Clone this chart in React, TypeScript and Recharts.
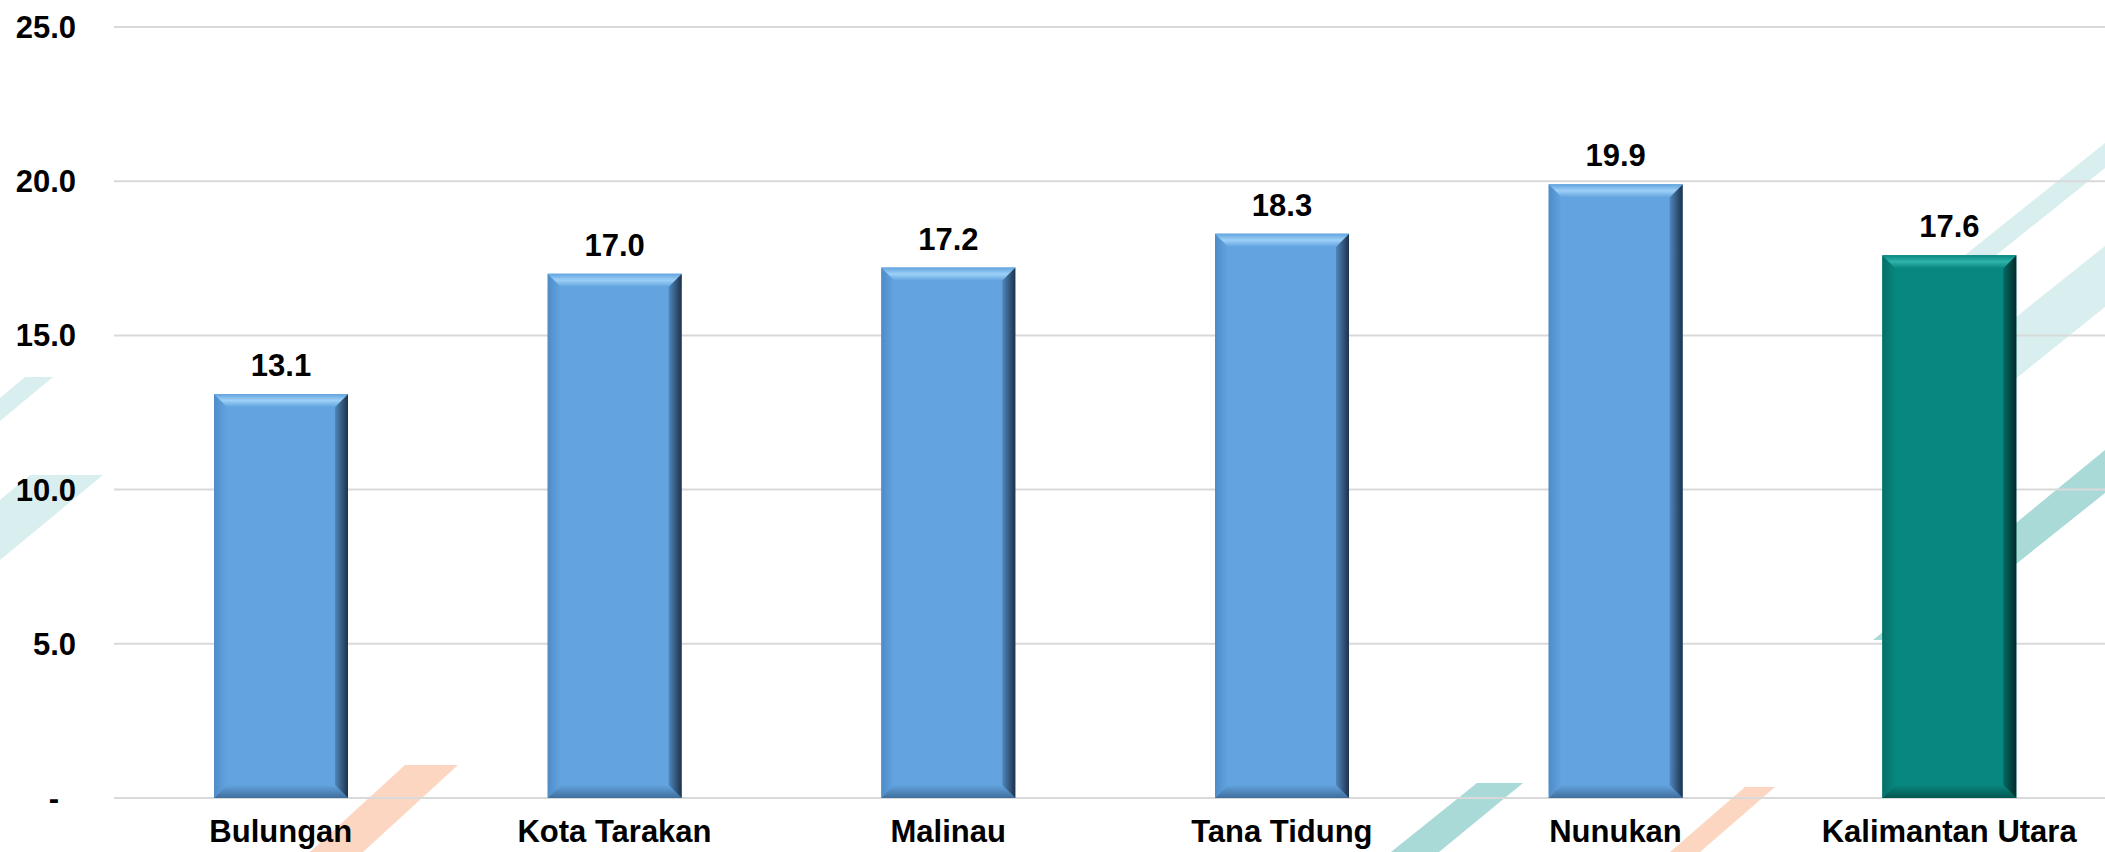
import { Bar, BarChart, CartesianGrid, Cell, LabelList, XAxis, YAxis } from "recharts";

const regions = ["Bulungan", "Kota Tarakan", "Malinau", "Tana Tidung", "Nunukan", "Kalimantan Utara"];
const values = [13.1, 17.0, 17.2, 18.3, 19.9, 17.6];
const yTicks = [0, 5, 10, 15, 20, 25];

const data = regions.map((name, i) => ({ name, value: values[i] }));

const FONT = '"Liberation Sans", Arial, sans-serif';

const palettes: Record<string, { base: string; light: string; side: string; dark: string; bottom: string; left: string }> = {
  blue: { base: "#63a4e0", light: "#9dd0f7", side: "#4f87bd", dark: "#1d324a", bottom: "#3f6e9c", left: "#4e8cc8" },
  teal: { base: "#07877f", light: "#2fb3aa", side: "#056a63", dark: "#022a28", bottom: "#04564f", left: "#066f68" },
};

function BevelBar(props: any) {
  const { x, y, width: w, height: h, index, fill } = props;
  if (!w || !h) return null;
  const p = fill === "teal" ? palettes.teal : palettes.blue;
  const b = 13;
  const id = `bev${index}`;
  return (
    <g>
      <defs>
        <linearGradient id={`${id}t`} x1="0" y1="0" x2="0" y2="1">
          <stop offset="0" stopColor={p.base} />
          <stop offset="0.5" stopColor={p.light} />
          <stop offset="1" stopColor={p.base} />
        </linearGradient>
        <linearGradient id={`${id}r`} x1="0" y1="0" x2="1" y2="0">
          <stop offset="0" stopColor={p.side} />
          <stop offset="1" stopColor={p.dark} />
        </linearGradient>
        <linearGradient id={`${id}l`} x1="0" y1="0" x2="1" y2="0">
          <stop offset="0" stopColor={p.left} />
          <stop offset="1" stopColor={p.base} />
        </linearGradient>
        <linearGradient id={`${id}b`} x1="0" y1="0" x2="0" y2="1">
          <stop offset="0" stopColor={p.base} />
          <stop offset="1" stopColor={p.bottom} />
        </linearGradient>
      </defs>
      <rect x={x} y={y} width={w} height={h} fill={p.base} />
      <polygon points={`${x},${y} ${x + b},${y + b} ${x + b},${y + h - b} ${x},${y + h}`} fill={`url(#${id}l)`} />
      <polygon points={`${x},${y + h} ${x + w},${y + h} ${x + w - b},${y + h - b} ${x + b},${y + h - b}`} fill={`url(#${id}b)`} />
      <polygon points={`${x + w},${y} ${x + w},${y + h} ${x + w - b},${y + h - b} ${x + w - b},${y + b}`} fill={`url(#${id}r)`} />
      <polygon points={`${x},${y} ${x + w},${y} ${x + w - b},${y + b} ${x + b},${y + b}`} fill={`url(#${id}t)`} />
    </g>
  );
}

function YTick(props: any) {
  const { x, y, payload } = props;
  const v = payload.value as number;
  return (
    <text x={v === 0 ? x - 17 : x} y={y} dy="0.355em" textAnchor="end" fontFamily={FONT} fontWeight="bold" fontSize={31} fill="#000">
      {v === 0 ? "-" : v.toFixed(1)}
    </text>
  );
}

function XTick(props: any) {
  const { x, y, payload } = props;
  return (
    <text x={x} y={y} dy="0.71em" textAnchor="middle" fontFamily={FONT} fontWeight="bold" fontSize={31} fill="#000">
      {payload.value}
    </text>
  );
}

// background slanted stripes
function Stripes() {
  const pale = "#d9eeee";
  const teal = "#a9dad8";
  const peach = "#fdd6c2";
  return (
    <svg width={2105} height={852} style={{ position: "absolute", left: 0, top: 0 }}>
      <polygon points="25,377 53,377 0,421 0,398" fill={pale} />
      <polygon points="30,475 103,475 0,560 0,500" fill={pale} />
      <polygon points="405,765 458,765 363,852 310,852" fill={peach} />
      <polygon points="1477,783 1523,783 1439,852 1391,852" fill={teal} />
      <polygon points="1745,787 1775,787 1700,852 1670,852" fill={peach} />
      <polygon points="2105,143 2105,168 1940,300 1909,300" fill={pale} />
      <polygon points="2105,246 2105,307 2014,380 1937,380" fill={pale} />
      <polygon points="2105,450 2105,493 1921,640 1873,640" fill={teal} />
    </svg>
  );
}

export default function App() {
  return (
    <div style={{ position: "absolute", left: 0, top: 0, width: 2105, height: 852, overflow: "hidden", background: "#fff" }}>
      <Stripes />
      <div style={{ position: "absolute", left: 0, top: 0 }}>
        <BarChart width={2118} height={852} data={data} margin={{ top: 27, right: 2, left: 0, bottom: 0 }}>
          <CartesianGrid vertical={false} stroke="#d9d9d9" strokeWidth={2} />
          <XAxis dataKey="name" axisLine={false} tickLine={false} tickSize={0} tickMargin={22} height={54} tick={<XTick />} interval={0} />
          <YAxis domain={[0, 25]} ticks={yTicks} axisLine={false} tickLine={false} tickSize={0} tickMargin={38} width={114} tick={<YTick />} />
          <Bar dataKey="value" barSize={134} shape={<BevelBar />} isAnimationActive={false}>
            {data.map((d, i) => (
              <Cell key={d.name} fill={i === data.length - 1 ? "teal" : "blue"} />
            ))}
            <LabelList
              dataKey="value"
              position="top"
              offset={18}
              formatter={(v: any) => Number(v).toFixed(1)}
              style={{ fontFamily: FONT, fontWeight: "bold", fontSize: 31, fill: "#000" }}
            />
          </Bar>
        </BarChart>
      </div>
    </div>
  );
}
